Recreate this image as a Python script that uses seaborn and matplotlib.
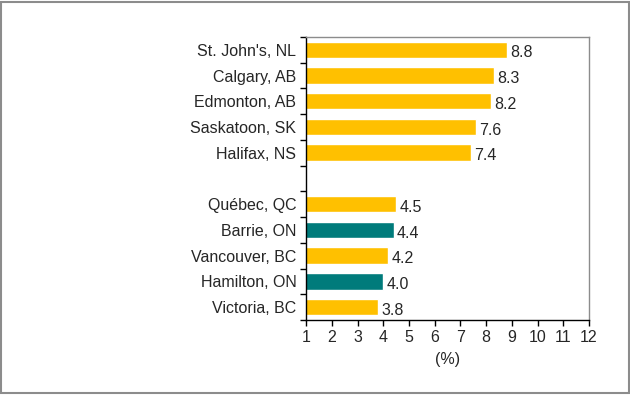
import matplotlib
matplotlib.use("Agg")
import matplotlib.pyplot as plt
import pandas as pd
import seaborn as sns
from matplotlib.patches import Rectangle
from matplotlib.ticker import FixedLocator, NullFormatter

cities = ["St. John's, NL", "Calgary, AB", "Edmonton, AB", "Saskatoon, SK", "Halifax, NS",
          " ",
          "Québec, QC", "Barrie, ON", "Vancouver, BC", "Hamilton, ON", "Victoria, BC"]
values = [8.8, 8.3, 8.2, 7.6, 7.4, None, 4.5, 4.4, 4.2, 4.0, 3.8]
groups = ["other", "other", "other", "other", "other", "other",
          "other", "ontario", "other", "ontario", "other"]
xticks = list(range(1, 13))

palette = {"other": "#FFC000", "ontario": "#007B7B"}

df = pd.DataFrame({"city": cities, "value": values, "group": groups})

sns.set_style("white")
plt.rcParams["font.family"] = ["Liberation Sans", "DejaVu Sans"]
fs = 11.5

fig = plt.figure(figsize=(6.3, 3.97), dpi=100)
ax = fig.add_axes([0.486, 0.194, 0.449, 0.713])

sns.barplot(data=df, x="value", y="city", hue="group", palette=palette, order=cities,
            orient="h", dodge=False, legend=False, width=0.64, ax=ax, saturation=1)

ax.set_xlim(1, 12)
ax.set_ylim(len(cities) - 0.5, -0.5)
ax.set_xticks(xticks)
ax.set_xticklabels([str(t) for t in xticks], fontsize=fs)
ax.set_xlabel("(%)", fontsize=fs, labelpad=5)
ax.set_ylabel("")
ax.tick_params(axis="x", direction="out", length=4, width=1, color="black", pad=3, bottom=True)
ax.tick_params(axis="y", which="major", length=0, labelsize=fs, pad=7)
ax.yaxis.set_minor_locator(FixedLocator([i - 0.5 for i in range(len(cities) + 1)]))
ax.yaxis.set_minor_formatter(NullFormatter())
ax.tick_params(axis="y", which="minor", direction="out", length=4, width=1, color="black", left=True)

for side in ["left", "bottom"]:
    ax.spines[side].set_color("black")
    ax.spines[side].set_linewidth(1)
for side in ["top", "right"]:
    ax.spines[side].set_color("#8c8c8c")
    ax.spines[side].set_linewidth(1)

for i, v in enumerate(values):
    if v is None:
        continue
    ax.text(v + 0.12, i + 0.12, f"{v:.1f}", va="center", ha="left", fontsize=fs)

fig.patches.append(Rectangle((0.002, 0.01), 0.996, 0.985, transform=fig.transFigure,
                             fill=False, edgecolor="#8c8c8c", linewidth=1.5))

fig.savefig("out.png", dpi=100)
